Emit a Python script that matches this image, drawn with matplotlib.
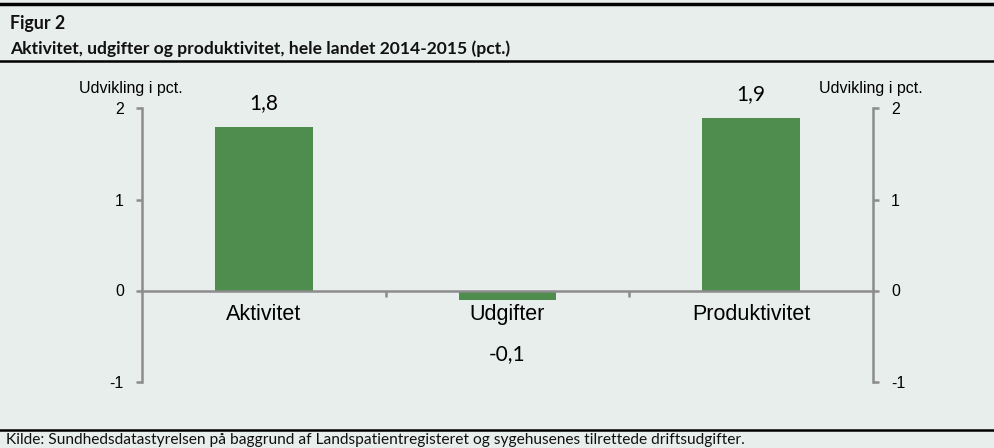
import matplotlib
matplotlib.use("Agg")
import matplotlib.pyplot as plt
from matplotlib.lines import Line2D

categories = ["Aktivitet", "Udgifter", "Produktivitet"]
values = [1.8, -0.1, 1.9]
value_labels = ["1,8", "-0,1", "1,9"]
yticks = [-1, 0, 1, 2]
title1 = "Figur 2"
title2 = "Aktivitet, udgifter og produktivitet, hele landet 2014-2015 (pct.)"
source = "Kilde: Sundhedsdatastyrelsen på baggrund af Landspatientregisteret og sygehusenes tilrettede driftsudgifter."
ylabel = "Udvikling i pct."

BG = "#E8EEEC"
BAR = "#4E8D4E"
SPINE = "#8C8C8C"

W, H = 995, 448
fig = plt.figure(figsize=(W / 100, H / 100), dpi=100, facecolor=BG)

def fx(px):
    return px / W

def fy(py):
    return 1 - py / H

# header / footer rules
fig.add_artist(Line2D([0, 1], [fy(4.5), fy(4.5)], color="black", lw=2.5, transform=fig.transFigure))
fig.add_artist(Line2D([0, 1], [fy(61), fy(61)], color="black", lw=1.8, transform=fig.transFigure))
fig.add_artist(Line2D([0, 1], [fy(429.5), fy(429.5)], color="black", lw=1.8, transform=fig.transFigure))

fig.text(fx(10), fy(23), title1, fontsize=12.8, fontweight="bold", family="Lato",
         va="center", ha="left", color="#111111")
fig.text(fx(10), fy(48.5), title2, fontsize=12.6, fontweight="bold", family="Lato",
         va="center", ha="left", color="#111111")
fig.text(fx(6), fy(440), source, fontsize=11.2, family="Lato",
         va="center", ha="left", color="#111111")

# axes
left, right = 142, 873
top, bottom = 108.5, 381.5
ax = fig.add_axes([fx(left), fy(bottom), fx(right - left), (bottom - top) / H])
ax.set_facecolor(BG)
ax.patch.set_alpha(0)

x = list(range(len(categories)))
ax.bar(x, values, width=0.4, color=BAR, zorder=2)
ax.set_xlim(-0.5, 2.5)
ax.set_ylim(-1, 2)

ax.spines["top"].set_visible(False)
for s in ["left", "right", "bottom"]:
    ax.spines[s].set_color(SPINE)
    ax.spines[s].set_linewidth(1.8)
ax.spines["bottom"].set_position(("data", 0))
ax.spines["bottom"].set_zorder(3)

ax.set_yticks(yticks)
ax.set_yticklabels([str(t) for t in yticks])
ax.tick_params(axis="y", which="both", left=True, right=True, labelleft=True, labelright=True,
               length=4, width=1.8, color=SPINE, labelsize=11.5, pad=9, direction="out")
for lab in ax.get_yticklabels():
    lab.set_family("Liberation Sans")

ax.set_xticks(x)
ax.set_xticklabels(categories, fontsize=15.5, family="Liberation Sans")
ax.set_xticks([0.5, 1.5], minor=True)
ax.tick_params(axis="x", which="major", length=0, pad=10)
ax.tick_params(axis="x", which="minor", length=4, width=1.8, color=SPINE, direction="out")

for xi, v, lab in zip(x, values, value_labels):
    off = 17 if v >= 0 else -39
    ax.annotate(lab, (xi, v), xytext=(0, off), textcoords="offset points",
                ha="center", va="center", fontsize=15, family="Lato")

fig.text(fx(131), fy(88), ylabel, fontsize=11.5, family="Liberation Sans", ha="center", va="center")
fig.text(fx(871), fy(88), ylabel, fontsize=11.5, family="Liberation Sans", ha="center", va="center")

fig.savefig("out.png", dpi=100, facecolor=BG)
